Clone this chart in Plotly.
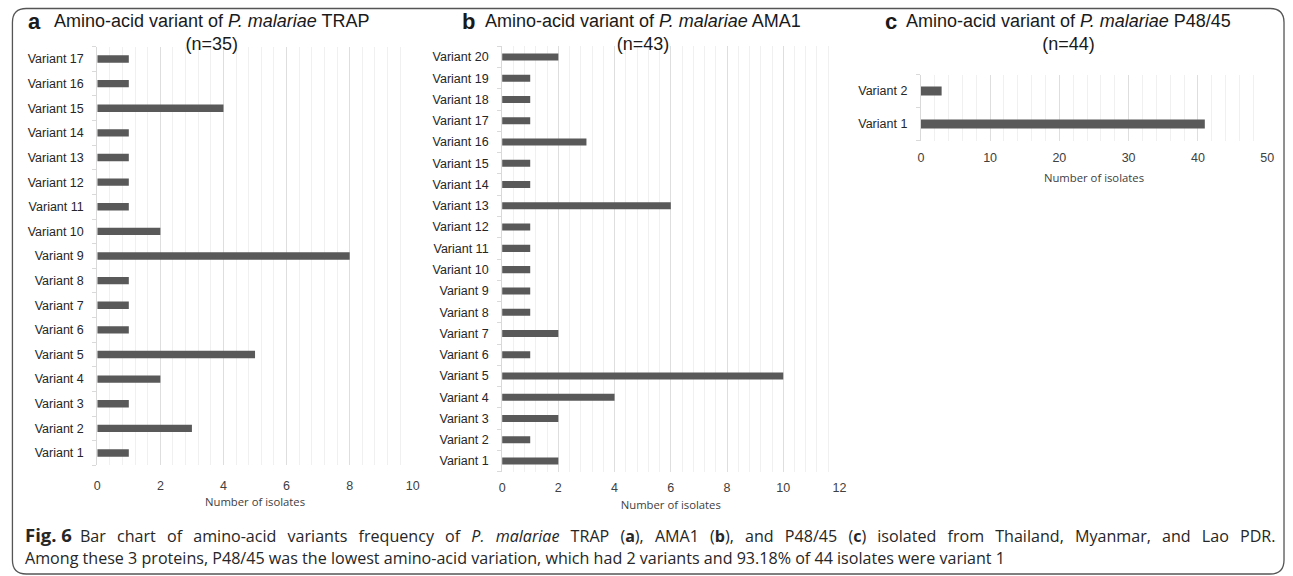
import plotly.graph_objects as go

W, H = 1293, 576

# ---- data ----
trap_labels = [f"Variant {i}" for i in range(1, 18)]
trap_values = [1, 3, 1, 2, 5, 1, 1, 1, 8, 2, 1, 1, 1, 1, 4, 1, 1]

ama1_labels = [f"Variant {i}" for i in range(1, 21)]
ama1_values = [2, 1, 2, 4, 10, 1, 2, 1, 1, 1, 1, 1, 6, 1, 1, 3, 1, 1, 1, 2]

p4845_labels = ["Variant 1", "Variant 2"]
p4845_values = [41, 3]

x_title = "Number of isolates"
BAR = "#595959"


def px_x(x):
    return x / W


def px_y(y):
    return 1 - y / H


fig = go.Figure()

panels = [
    # labels, values, xaxis, yaxis, x0px, x1px, y_top, y_bot, range, dtick, minor, bargap, ticklen, standoff
    (trap_labels, trap_values, "x", "y", 95, 413, 46.7, 465.3, [0, 10], 2, 0.4, 0.7, 9, 5),
    (ama1_labels, ama1_values, "x2", "y2", 503, 843, 46.4, 471.6, [0, 12], 2, 0.4, 0.67, 4, 7),
    (p4845_labels, p4845_values, "x3", "y3", 925, 1274, 74.5, 140.5, [0, 50], 10, 2, 0.73, 5, 10),
]

layout_axes = {}
for i, (lab, val, xa, ya, x0, x1, yt, yb, rng, dt, mn, bg, tl, so) in enumerate(panels):
    fig.add_trace(go.Bar(
        y=lab, x=val, orientation="h", xaxis=xa, yaxis=ya,
        marker=dict(color=BAR, line=dict(width=0)), width=1 - bg,
        showlegend=False, hoverinfo="x+y",
    ))
    sfx = "" if i == 0 else str(i + 1)
    layout_axes["xaxis" + sfx] = dict(
        domain=[px_x(x0), px_x(x1)], range=rng, dtick=dt, tick0=0,
        anchor=ya, showline=False, zeroline=False,
        showgrid=True, gridcolor="#dedede", gridwidth=1,
        minor=dict(dtick=mn, showgrid=True, gridcolor="#f0f0f0", gridwidth=1),
        ticks="outside", ticklen=tl, tickcolor="rgba(0,0,0,0)",
        tickfont=dict(family="Liberation Sans, Arial", size=12.5, color="#404040"),
        title=dict(text=x_title, standoff=so,
                   font=dict(family="Open Sans", size=11.3, color="#404040")),
        fixedrange=True,
    )
    layout_axes["yaxis" + sfx] = dict(
        domain=[px_y(yb), px_y(yt)], anchor=xa, type="category",
        showline=True, linecolor="#d9d9d9", linewidth=1,
        ticks="outside", ticklen=4, tickcolor="#d9d9d9", tickson="boundaries",
        ticklabelstandoff=10,
        tickfont=dict(family="Liberation Sans, Arial", size=12.5, color="#262626"),
        showgrid=False, zeroline=False, fixedrange=True,
    )

fig.update_layout(**layout_axes)

TF = "Liberation Sans, Arial"
titles = [
    ("a", 32, "Amino-acid variant of <i>P. malariae</i> TRAP<br>(n=35)", 210),
    ("b", 469, "Amino-acid variant of <i>P. malariae</i> AMA1<br>(n=43)", 645),
    ("c", 895, "Amino-acid variant of <i>P. malariae</i> P48/45<br>(n=44)", 1074),
]
ann = []
for letter, lx, text, tx in titles:
    ann.append(dict(text=f"<b>{letter}</b>", x=px_x(lx), y=px_y(21), xref="paper", yref="paper",
                    xanchor="center", yanchor="middle", showarrow=False,
                    font=dict(family=TF, size=22, color="#1a1a1a")))
    ann.append(dict(text=text, x=px_x(tx), y=px_y(32), xref="paper", yref="paper",
                    xanchor="center", yanchor="middle", showarrow=False, align="center",
                    font=dict(family=TF, size=18, color="#1a1a1a")))

CF = "Open Sans, Noto Sans, sans-serif"
SEP = " \u2009\u2009\u200a"   # widened word gap to imitate the justified first caption line
words1 = ["<span style='font-size:18.5px'><b>Fig. 6</b></span>\u2002Bar", "chart", "of", "amino-acid",
          "variants", "frequency", "of", "<i>P.</i>", "<i>malariae</i>", "TRAP", "(<b>a</b>),",
          "AMA1", "(<b>b</b>),", "and", "P48/45", "(<b>c</b>)", "isolated", "from", "Thailand,",
          "Myanmar,", "and", "Lao", "PDR."]
cap1 = SEP.join(words1)
cap2 = ("Among these 3 proteins, P48/45 was the lowest amino-acid variation, which had 2 variants "
        "and 93.18% of 44 isolates were variant 1")
for txt, yy in [(cap1, 534), (cap2, 558)]:
    ann.append(dict(text=txt, x=px_x(20), y=px_y(yy), xref="paper", yref="paper",
                    xanchor="left", yanchor="middle", showarrow=False,
                    font=dict(family=CF, size=16.1, color="#262626")))

# rounded frame (pixel coords, converted to paper)
x0, x1, y0, y1, r = 9.5, 1291, 8.5, 574, 14
pts = (f"M {x0+r},{y0} L {x1-r},{y0} Q {x1},{y0} {x1},{y0+r} L {x1},{y1-r} "
       f"Q {x1},{y1} {x1-r},{y1} L {x0+r},{y1} Q {x0},{y1} {x0},{y1-r} "
       f"L {x0},{y0+r} Q {x0},{y0} {x0+r},{y0} Z")


def conv(p):
    out = []
    for tok in p.split(" "):
        if "," in tok:
            a, b = tok.split(",")
            out.append(f"{float(a)/W:.5f},{1-float(b)/H:.5f}")
        else:
            out.append(tok)
    return " ".join(out)


fig.update_layout(
    width=W, height=H, margin=dict(l=0, r=0, t=0, b=0),
    paper_bgcolor="white", plot_bgcolor="white",
    bargap=0.7, annotations=ann,
    shapes=[dict(type="path", path=conv(pts), xref="paper", yref="paper",
                 line=dict(color="#555555", width=1.3), fillcolor="rgba(0,0,0,0)", layer="below")],
)

fig.write_html("out.html", config={"displayModeBar": False},
               post_script="document.body.style.margin='0px';document.body.style.overflow='hidden';")
